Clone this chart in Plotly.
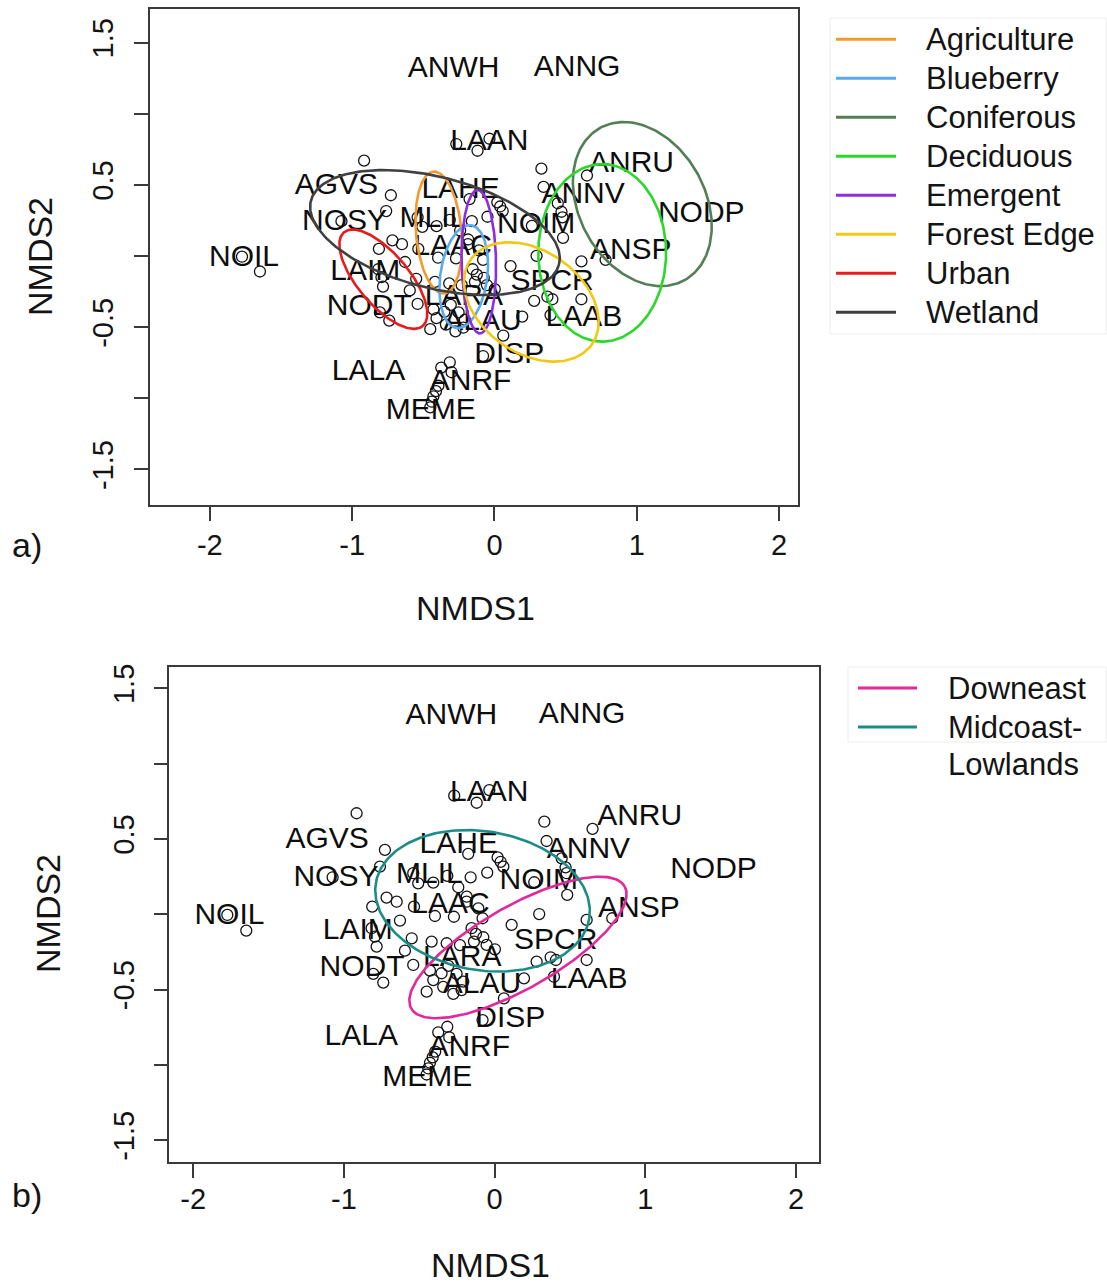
import numpy as np
import plotly.graph_objects as go

W, H = 1107, 1285
FONT = "Liberation Sans, Arial, Helvetica, sans-serif"
INK = "#141414"

# ---- species scores (NMDS1, NMDS2) ----
species = ["ANWH", "ANNG", "LAAN", "ANRU", "AGVS", "LAHE", "ANNV", "NODP",
           "NOSY", "MLIL", "NOIM", "LAAC", "NOIL", "ANSP", "LAIM", "SPCR",
           "LARA", "NODT", "LAAB", "ALAU", "DISP", "LALA", "ANRF", "MEME"]
species_x = [-0.287, 0.581, -0.036, 0.963, -1.111, -0.238, 0.623, 1.453,
             -1.053, -0.433, 0.293, -0.293, -1.760, 0.958, -0.908, 0.405,
             -0.215, -0.880, 0.628, -0.084, 0.104, -0.885, -0.168, -0.447]
species_y = [1.311, 1.316, 0.798, 0.641, 0.486, 0.459, 0.422, 0.293,
             0.238, 0.254, 0.216, 0.061, -0.017, 0.033, -0.116, -0.183,
             -0.293, -0.359, -0.437, -0.470, -0.698, -0.820, -0.890, -1.090]

# ---- site scores (NMDS1, NMDS2) ----
site_x = [-0.916, -0.268, -0.119, -0.035, 0.330, 0.650, 0.345, -0.728,
          -0.175, 0.020, 0.040, 0.058, 0.445, 0.471, 0.478, 0.482,
          -0.761, -1.075, -0.540, -0.507, -0.407, -0.314, -0.241, -0.159,
          -0.049, 0.263, -0.717, -0.650, -0.812, -0.535, -0.396, -0.270,
          -0.186, -0.108, -0.080, 0.296, 0.611, 0.781, -0.628, 0.113,
          -0.816, -0.783, -0.153, -0.124, -0.075, -0.137, -0.053, 0.002,
          -0.418, -0.318, -0.595, -0.540, 0.279, 0.372, 0.407, 0.611,
          -0.805, -0.739, -0.429, -0.352, -0.252, -0.407, -0.208, -0.307,
          -0.451, -0.274, 0.195, 0.394, 0.062, -0.080, -0.314, -0.374,
          -0.301, -0.394, -0.411, -0.429, -0.440, -0.451, -1.774, -1.648,
          -0.550, -0.230, -0.185, -0.341, -0.219, -0.794]
site_y = [0.670, 0.787, 0.740, 0.824, 0.614, 0.566, 0.486, 0.427,
          0.400, 0.377, 0.348, 0.316, 0.371, 0.311, 0.272, 0.128,
          0.316, 0.245, 0.272, 0.205, 0.210, 0.254, 0.179, 0.245,
          0.276, 0.212, 0.110, 0.083, 0.050, 0.050, -0.012, -0.017,
          0.083, 0.039, -0.027, 0.001, -0.038, -0.027, -0.042, -0.071,
          -0.093, -0.215, -0.093, -0.131, -0.153, -0.182, -0.204, -0.233,
          -0.182, -0.193, -0.242, -0.337, -0.315, -0.286, -0.304, -0.304,
          -0.396, -0.454, -0.375, -0.392, -0.396, -0.437, -0.448, -0.343,
          -0.514, -0.529, -0.426, -0.415, -0.559, -0.703, -0.747, -0.784,
          -0.817, -0.912, -0.950, -0.986, -1.024, -1.064, -0.005, -0.109,
          -0.160, -0.205, 0.116, -0.482, -0.504, -0.149]

# ---- habitat dispersion ellipses (panel a) ----
habitat = ["Agriculture", "Blueberry", "Coniferous", "Deciduous",
           "Emergent", "Forest Edge", "Urban", "Wetland"]
habitat_color = ["#F29A2E", "#5BAAEB", "#537F56", "#2AD82A",
                 "#8C2DE0", "#F2C814", "#E81C1C", "#404040"]
habitat_cx = [-0.391, -0.216, 1.039, 0.757, -0.110, 0.259, -0.781, -0.418]
habitat_cy = [0.165, -0.145, 0.365, 0.022, -0.040, -0.323, -0.163, 0.165]
habitat_a = [0.430, 0.365, 0.612, 0.624, 0.504, 0.520, 0.430, 0.900]
habitat_b = [0.160, 0.165, 0.443, 0.449, 0.121, 0.360, 0.180, 0.390]
habitat_angle = [95, 82, 119, 90, 91, -35, -50, -14.4]

# ---- region dispersion ellipses (panel b) ----
region = ["Downeast", "Midcoast-<br>Lowlands"]
region_color = ["#E2289B", "#1D8C86"]
region_cx = [0.155, -0.080]
region_cy = [-0.221, 0.089]
region_a = [0.816, 0.718]
region_b = [0.273, 0.461]
region_angle = [29.8, -9.5]

x_ticks = [-2, -1, 0, 1, 2]
x_ticktext = ["-2", "-1", "0", "1", "2"]
y_ticks = [-1.5, -1.0, -0.5, 0.0, 0.5, 1.0, 1.5]
y_ticktext = ["-1.5", "", "-0.5", "", "0.5", "", "1.5"]


def ellipse_path(cx, cy, a, b, angle, n=241):
    t = np.linspace(0, 2 * np.pi, n)
    th = np.deg2rad(angle)
    x = cx + a * np.cos(t) * np.cos(th) - b * np.sin(t) * np.sin(th)
    y = cy + a * np.cos(t) * np.sin(th) + b * np.sin(t) * np.cos(th)
    return x, y


def px(x):
    return x / W


def py(y):
    return 1 - y / H


fig = go.Figure()


def add_panel(xa, ya, names, colors, cx, cy, aa, bb, ang):
    fig.add_trace(go.Scatter(
        x=site_x, y=site_y, mode="markers", xaxis=xa, yaxis=ya,
        marker=dict(symbol="circle-open", size=11, color=INK,
                    line=dict(width=1.3, color=INK)),
        showlegend=False, hoverinfo="skip"))
    fig.add_trace(go.Scatter(
        x=species_x, y=species_y, mode="text", text=species,
        xaxis=xa, yaxis=ya, textposition="middle center",
        textfont=dict(family=FONT, size=30, color="#0d0d0d"),
        showlegend=False, hoverinfo="skip"))
    for n, c, x0, y0, a, b, g in zip(names, colors, cx, cy, aa, bb, ang):
        ex, ey = ellipse_path(x0, y0, a, b, g)
        fig.add_trace(go.Scatter(
            x=ex, y=ey, mode="lines", name=n.replace("<br>", ""),
            xaxis=xa, yaxis=ya, line=dict(color=c, width=2.6),
            showlegend=False, hoverinfo="skip"))


add_panel("x", "y", habitat, habitat_color, habitat_cx, habitat_cy,
          habitat_a, habitat_b, habitat_angle)
add_panel("x2", "y2", region, region_color, region_cx, region_cy,
          region_a, region_b, region_angle)

axis_common = dict(
    showgrid=False, zeroline=False, showline=True, mirror=True,
    linecolor="#3a3a3a", linewidth=1.6, ticks="outside", ticklen=14,
    tickwidth=1.5, tickcolor="#3a3a3a",
    tickfont=dict(family=FONT, size=29, color=INK), automargin=False)

fig.update_layout(
    width=W, height=H, margin=dict(l=0, r=0, t=0, b=0),
    paper_bgcolor="white", plot_bgcolor="white", showlegend=False,
    xaxis=dict(domain=[px(149.5), px(798)], range=[-2.424, 2.133],
               tickvals=x_ticks, ticktext=x_ticktext, ticklabelstandoff=-1,
               anchor="y", **axis_common),
    yaxis=dict(domain=[py(505), py(9.3)], range=[-1.750, 1.734],
               tickvals=y_ticks, ticktext=y_ticktext, tickangle=-90,
               ticklabelstandoff=9, anchor="x", **axis_common),
    xaxis2=dict(domain=[px(169.3), px(818.7)], range=[-2.159, 2.151],
                tickvals=x_ticks, ticktext=x_ticktext, ticklabelstandoff=-4,
                anchor="y2", **axis_common),
    yaxis2=dict(domain=[py(1162), py(667)], range=[-1.645, 1.641],
                tickvals=y_ticks, ticktext=y_ticktext, tickangle=-90,
                ticklabelstandoff=8, anchor="x2", **axis_common),
)

annotations = []
shapes = []


def text_at(x, y, s, size, angle=0, xanchor="center"):
    annotations.append(dict(
        x=px(x), y=py(y), xref="paper", yref="paper", text=s,
        showarrow=False, textangle=angle, xanchor=xanchor, yanchor="middle",
        font=dict(family=FONT, size=size, color=INK)))


# axis titles and panel letters
text_at(475, 608, "NMDS1", 34)
text_at(490, 1265, "NMDS1", 34)
text_at(40, 257, "NMDS2", 34, angle=-90)
text_at(48, 914, "NMDS2", 34, angle=-90)
text_at(10, 545, "a)", 34, xanchor="left")
text_at(10, 1195, "b)", 34, xanchor="left")

# legend for panel a
shapes.append(dict(type="rect", xref="paper", yref="paper",
                   x0=px(830), x1=px(1106), y0=py(334), y1=py(18),
                   line=dict(color="#EDEDED", width=1)))
for i, (n, c) in enumerate(zip(habitat, habitat_color)):
    yy = 39.3 + 39.0 * i
    shapes.append(dict(type="line", xref="paper", yref="paper",
                       x0=px(836), x1=px(896), y0=py(yy), y1=py(yy),
                       line=dict(color=c, width=3)))
    text_at(924, yy, n, 31, xanchor="left")

# legend for panel b
shapes.append(dict(type="rect", xref="paper", yref="paper",
                   x0=px(848), x1=px(1106), y0=py(742), y1=py(667),
                   line=dict(color="#EDEDED", width=1)))
for i, (n, c) in enumerate(zip(region, region_color)):
    yy = 688 + 39.0 * i
    shapes.append(dict(type="line", xref="paper", yref="paper",
                       x0=px(858), x1=px(917), y0=py(yy), y1=py(yy),
                       line=dict(color=c, width=3)))
    parts = n.split("<br>")
    for k, p in enumerate(parts):
        text_at(946, yy + 37 * k, p, 31, xanchor="left")

fig.update_layout(annotations=annotations, shapes=shapes)

fig.write_html("out.html")
